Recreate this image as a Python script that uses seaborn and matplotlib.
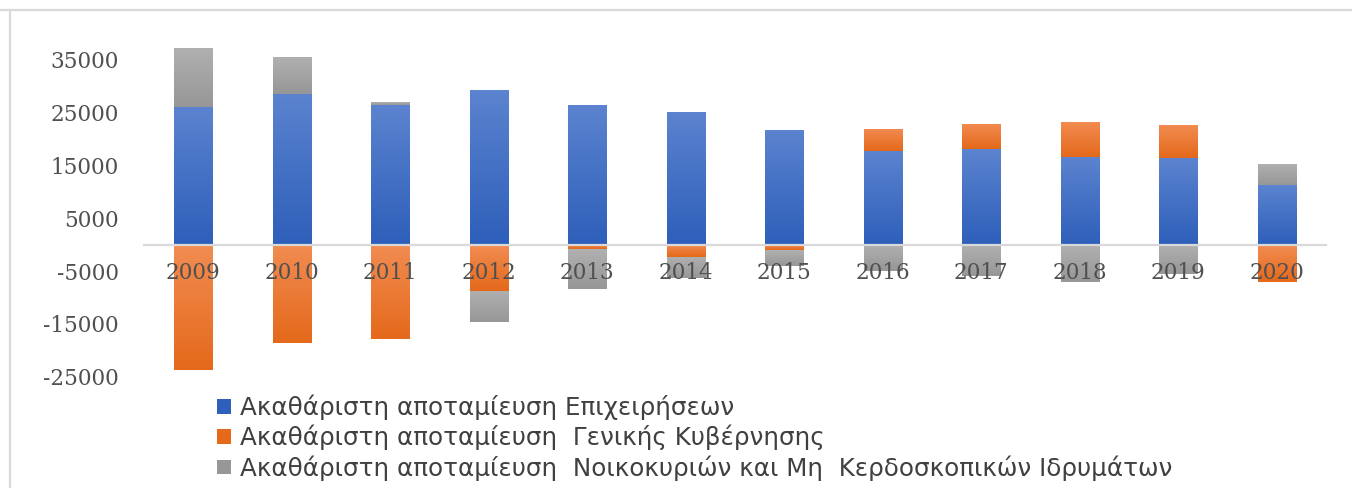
import numpy as np
import pandas as pd
import seaborn as sns
import matplotlib.pyplot as plt
from matplotlib.patches import Patch
from matplotlib.lines import Line2D
from matplotlib.colors import to_rgb

years = ['2009', '2010', '2011', '2012', '2013', '2014',
         '2015', '2016', '2017', '2018', '2019', '2020']
business = [26000, 28600, 26500, 29300, 26500, 25100,
            21800, 17800, 18100, 16600, 16400, 11250]
government = [-23700, -18700, -17900, -8700, -900, -2400,
              -1100, 4200, 4800, 6650, 6350, -7000]
households = [11200, 7000, 500, -6000, -7550, -4000,
              -2900, -5000, -5900, -7000, -5600, 3950]

labels = ['Ακαθάριστη αποταμίευση Επιχειρήσεων',
          'Ακαθάριστη αποταμίευση  Γενικής Κυβέρνησης',
          'Ακαθάριστη αποταμίευση  Νοικοκυριών και Μη  Κερδοσκοπικών Ιδρυμάτων']
yticks = [-25000, -15000, -5000, 5000, 15000, 25000, 35000]

# excel style gradient, light on top, dark at bottom
shades = [('#5b83cf', '#2e5fba'),
          ('#f28c52', '#e4691b'),
          ('#b0b0b0', '#979797')]

sns.set_style('white')
plt.rcParams['font.family'] = ['DejaVu Sans']

fig = plt.figure(figsize=(13.52, 4.88), dpi=100)
ax = fig.add_axes([0.1065, 0.2283, 0.8743, 0.7029])

pos_base = np.zeros(len(years))
neg_base = np.zeros(len(years))
for vals, (c_top, c_bot) in zip([business, government, households], shades):
    v = np.array(vals, dtype=float)
    bottom = np.where(v >= 0, pos_base, neg_base)
    n0 = len(ax.patches)
    sns.barplot(x=years, y=v, bottom=bottom, color=c_bot, saturation=1,
                width=0.39, linewidth=0, ax=ax)
    for p in ax.patches[n0:]:
        x0, w = p.get_x(), p.get_width()
        y0, h = p.get_y(), p.get_height()
        lo, hi = min(y0, y0 + h), max(y0, y0 + h)
        t = np.linspace(0, 1, 64)[:, None]
        rgb = (1 - t) * np.array(to_rgb(c_bot)) + t * np.array(to_rgb(c_top))
        im = ax.imshow(rgb[:, None, :], extent=[x0, x0 + w, lo, hi],
                       origin='lower', aspect='auto', interpolation='bilinear',
                       zorder=1.1)
        im.set_clip_path(p)
    pos_base += np.clip(v, 0, None)
    neg_base += np.clip(v, None, 0)

ax.set_xlim(-0.5, 11.5)
ax.set_ylim(-25000, 40000)
ax.set_yticks(yticks)
ax.set_yticklabels([str(t) for t in yticks])
ax.set_xlabel('')
ax.set_ylabel('')
ax.set_axisbelow(False)

for s in ['top', 'right', 'left']:
    ax.spines[s].set_visible(False)
ax.spines['bottom'].set_position(('data', 0))
ax.spines['bottom'].set_color('#d9d9d9')
ax.spines['bottom'].set_linewidth(1.6)
ax.spines['bottom'].set_zorder(3)

ax.tick_params(axis='x', length=0, pad=12.5, labelsize=15.5, labelcolor='#505050')
ax.tick_params(axis='y', length=0, pad=18, labelsize=15.5, labelcolor='#505050')
for lab in ax.get_xticklabels() + ax.get_yticklabels():
    lab.set_family('DejaVu Serif')

handles = [Patch(facecolor=c[1], edgecolor='none') for c in shades]
fig.legend(handles, labels, loc='upper left', bbox_to_anchor=(0.1605, 0.192),
           frameon=False, fontsize=17.7, handlelength=0.55, handleheight=0.55,
           handletextpad=0.4, labelspacing=0.2, borderpad=0, borderaxespad=0,
           labelcolor='#404040')

# chart border on the left and top
fig.add_artist(Line2D([0, 1], [0.9795, 0.9795], color='#d9d9d9', lw=1.6))
fig.add_artist(Line2D([0.0074, 0.0074], [0, 0.9795], color='#d9d9d9', lw=1.6))

fig.savefig('out.png', dpi=100, facecolor='white')
